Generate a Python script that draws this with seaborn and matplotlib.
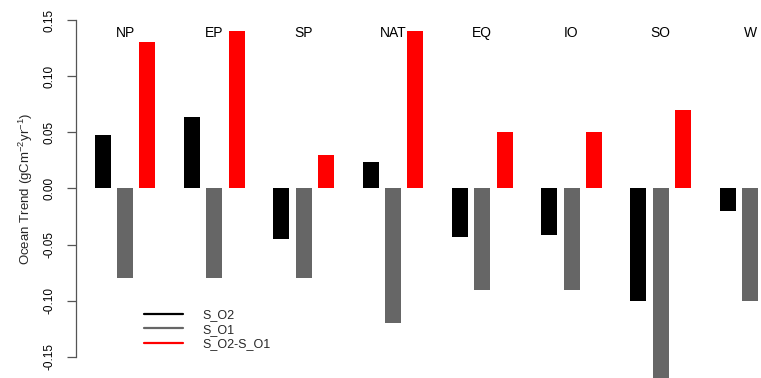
import numpy as np
import pandas as pd
import matplotlib
matplotlib.use("Agg")
import matplotlib.pyplot as plt
from matplotlib.lines import Line2D
import seaborn as sns

# Regional ocean trends (gC m^-2 yr^-1)
regions = ["NP", "EP", "SP", "NAT", "EQ", "IO", "SO", "W"]
s_o2 = [0.048, 0.064, -0.045, 0.024, -0.043, -0.041, -0.100, -0.020]
s_o1 = [-0.080, -0.080, -0.080, -0.120, -0.090, -0.090, -0.170, -0.100]
diff = [0.130, 0.140, 0.030, 0.140, 0.050, 0.050, 0.070, 0.080]
series_names = ["S_O2", "S_O1", "S_O2-S_O1"]
series_colors = ["#000000", "#666666", "#ff0000"]
yticks = [-0.15, -0.10, -0.05, 0.00, 0.05, 0.10, 0.15]

df = pd.DataFrame({
    "region": regions * 3,
    "value": s_o2 + s_o1 + diff,
    "series": [series_names[0]] * 8 + [series_names[1]] * 8 + [series_names[2]] * 8,
})

sns.set_theme(style="white")
plt.rcParams["font.family"] = ["Liberation Sans", "DejaVu Sans"]
plt.rcParams["mathtext.fontset"] = "custom"
plt.rcParams["mathtext.rm"] = "Liberation Sans"
plt.rcParams["mathtext.it"] = "Liberation Sans"

W, H, DPI = 761, 378, 100
fig = plt.figure(figsize=(W / DPI, H / DPI), dpi=DPI)
ax = fig.add_axes([76 / W, 0.0, 1 - 76 / W, 1.0])

sns.barplot(
    data=df, x="region", y="value", hue="series",
    hue_order=series_names, palette=series_colors, order=regions,
    width=0.75, gap=0.284, dodge=True, errorbar=None,
    saturation=1, legend=False, linewidth=0, ax=ax,
)

ax.set_xlim(-0.549, 7.122)
ax.set_ylim(-0.1687, 0.1678)

# region names above the bars
for i, name in enumerate(regions):
    ax.text(i, 0.138, name, ha="center", va="center", fontsize=10, color="black")

# left axis spanning only the tick range
for side in ["top", "right", "bottom"]:
    ax.spines[side].set_visible(False)
ax.spines["left"].set_bounds(-0.15, 0.15)
ax.spines["left"].set_color("#555555")
ax.spines["left"].set_linewidth(0.9)
ax.set_yticks(yticks)
ax.set_yticklabels([f"{t:.2f}" for t in yticks], rotation=90, va="center", fontsize=8.5)
ax.tick_params(axis="y", which="major", left=True, length=6.5, width=0.9,
               color="#555555", pad=8.5, labelcolor="black")
ax.set_xticks([])
ax.set_xlabel("")
ax.set_ylabel(r"Ocean Trend (gCm$^{\mathrm{-2}}$yr$^{\mathrm{-1}}$)", fontsize=9.5, labelpad=6)
ax.grid(False)

handles = [Line2D([0], [0], color=c, lw=1.6) for c in series_colors]
fig.legend(
    handles, series_names, loc="upper left",
    bbox_to_anchor=(144 / W, 1 - 309 / H), frameon=False, fontsize=9,
    handlelength=3.1, handletextpad=1.6, labelspacing=0.21,
    borderpad=0, borderaxespad=0,
)

fig.savefig("out.png", dpi=DPI)
